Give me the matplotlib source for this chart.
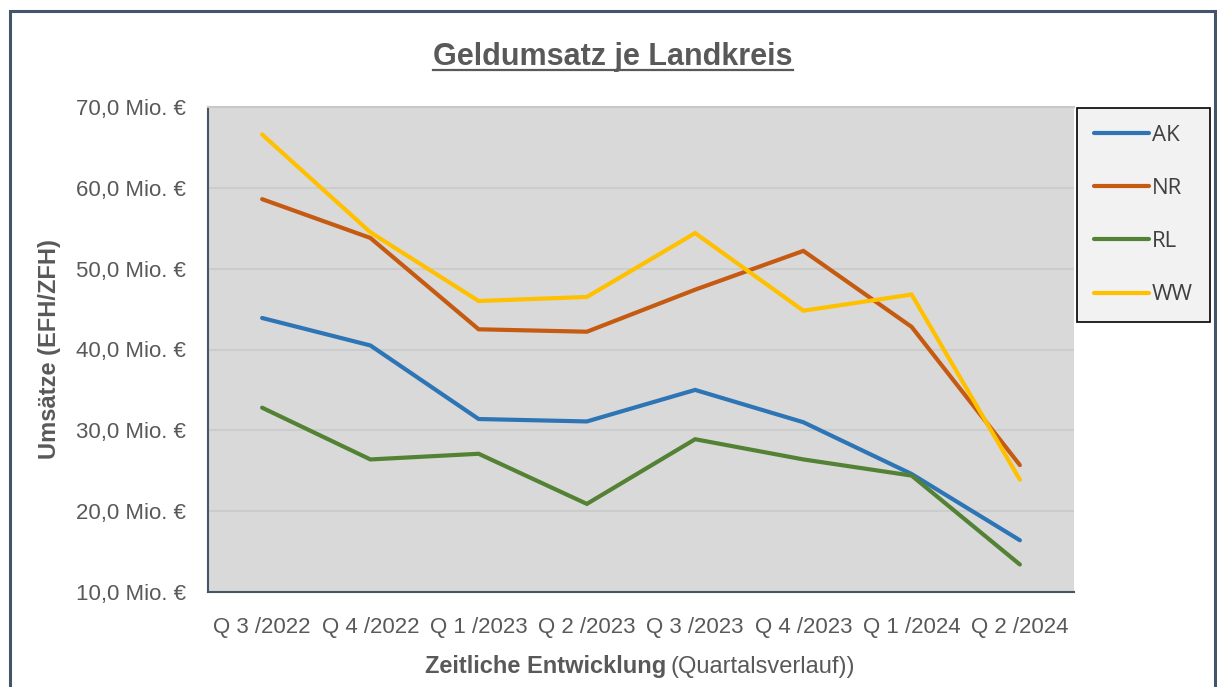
import matplotlib
matplotlib.use("Agg")
import matplotlib.pyplot as plt
from matplotlib.lines import Line2D
from matplotlib.patches import Rectangle

plt.rcParams['font.family'] = ['Liberation Sans', 'DejaVu Sans']

categories = ["Q 3 /2022", "Q 4 /2022", "Q 1 /2023", "Q 2 /2023",
              "Q 3 /2023", "Q 4 /2023", "Q 1 /2024", "Q 2 /2024"]
ak = [43.9, 40.5, 31.4, 31.1, 35.0, 31.0, 24.6, 16.4]
nr = [58.6, 53.8, 42.5, 42.2, 47.4, 52.2, 42.8, 25.7]
rl = [32.8, 26.4, 27.1, 20.9, 28.9, 26.4, 24.4, 13.4]
ww = [66.6, 54.5, 46.0, 46.5, 54.4, 44.8, 46.8, 23.9]
series_names = ["AK", "NR", "RL", "WW"]
series_colors = ["#2E75B6", "#C55A11", "#548235", "#FFC000"]
y_ticks = [10, 20, 30, 40, 50, 60, 70]

W, H = 1217, 687
fig = plt.figure(figsize=(W / 100, H / 100), dpi=100)
fig.patch.set_facecolor("white")

# outer frame
frame = Rectangle((10 / W, -0.05), (1215 - 10) / W, 1 - 11 / H + 0.05,
                  transform=fig.transFigure, fill=False,
                  edgecolor="#44546A", linewidth=2.2)
fig.add_artist(frame)

ax = fig.add_axes([208 / W, 1 - 592 / H, (1074 - 208) / W, (592 - 107) / H])
ax.set_facecolor("#D9D9D9")

x = list(range(len(categories)))
for vals, name, col in zip([ak, nr, rl, ww], series_names, series_colors):
    ax.plot(x, vals, color=col, lw=3.0, label=name, solid_capstyle="round",
            solid_joinstyle="miter")

ax.set_xlim(-0.5, len(categories) - 0.5)
ax.set_ylim(10, 70)
ax.set_yticks(y_ticks)
ax.set_yticklabels([f"{v:.1f}".replace(".", ",") + " Mio. €" for v in y_ticks])
ax.set_xticks(x)
ax.set_xticklabels(categories)
ax.tick_params(axis="both", length=0, labelsize=16, colors="#595959")
ax.tick_params(axis="y", pad=16)
ax.tick_params(axis="x", pad=18)
ax.yaxis.grid(True, color="#CCCCCC", lw=1.5)
ax.set_axisbelow(True)

for s in ["left", "bottom"]:
    ax.spines[s].set_color("#44546A")
    ax.spines[s].set_linewidth(1.5)
ax.spines["top"].set_color("#C8C8C8")
ax.spines["top"].set_linewidth(1.5)
ax.spines["right"].set_visible(False)

ax.set_ylabel("Umsätze (EFH/ZFH)", fontsize=17, fontweight="bold", color="#595959")
ax.yaxis.set_label_coords((61 - 208) / (1074 - 208), 0.5)

# x-axis title: bold + regular parts
t1 = fig.text(425 / W, 1 - 673 / H, "Zeitliche Entwicklung", fontsize=17,
              fontweight="bold", color="#595959", ha="left", va="baseline")
fig.canvas.draw()
bb1 = t1.get_window_extent()
t2 = fig.text(bb1.x1 / W + 4 / W, 1 - 673 / H, "(Quartalsverlauf))", fontsize=17,
              color="#595959", ha="left", va="baseline")

# title with underline
title = fig.text(613 / W, 1 - 65 / H, "Geldumsatz je Landkreis", fontsize=22,
                 fontweight="bold", color="#595959", ha="center", va="baseline")
fig.canvas.draw()
tb = title.get_window_extent()
uy = (H - 70) / H
fig.add_artist(Line2D([tb.x0 / W, tb.x1 / W], [uy, uy], transform=fig.transFigure,
                      color="#595959", lw=1.6))

# legend
lx0, lx1, ly0, ly1 = 1077, 1210, 108, 321
leg = ax.legend(loc="upper left",
                bbox_to_anchor=(lx0 / W, 1 - ly1 / H, (lx1 - lx0) / W, (ly1 - ly0) / H),
                bbox_transform=fig.transFigure, mode="expand",
                frameon=True, fancybox=False,
                fontsize=16, handlelength=2.5, handletextpad=0.12,
                labelspacing=1.45, borderpad=0.75, borderaxespad=0)
leg.get_frame().set_edgecolor("black")
leg.get_frame().set_facecolor("#F2F2F2")
leg.get_frame().set_linewidth(1.2)
leg.get_frame().set_alpha(1)
for t in leg.get_texts():
    t.set_color("#404040")
    t.set_family(["Open Sans", "DejaVu Sans"])

fig.savefig("out.png", dpi=100)
